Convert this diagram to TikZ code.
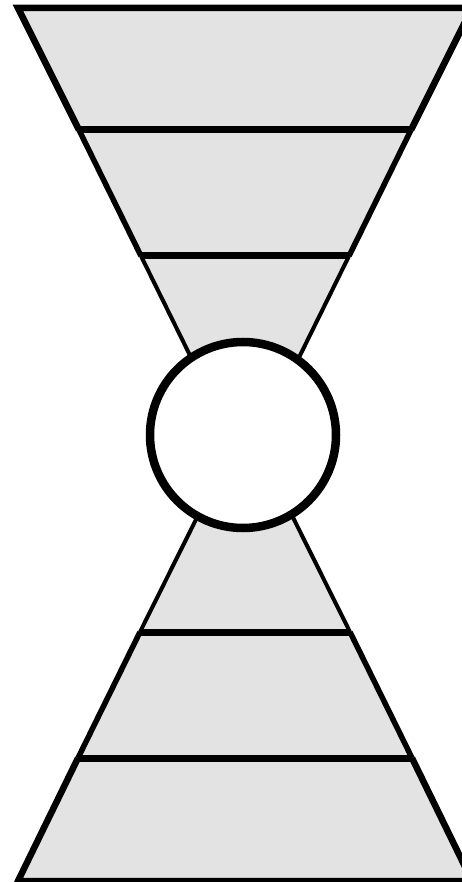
\documentclass[tikz,border=0pt]{standalone}
\usepackage{xcolor}
\definecolor{bandgray}{RGB}{227,227,227}

\begin{document}
\begin{tikzpicture}[x=1pt,y=-1pt,
  band/.style={fill=bandgray},
  rim/.style={draw=black,line join=miter},
  hub/.style={circle,draw=black,fill=white,line width=8.5pt,minimum size=186pt,inner sep=0pt}]
\useasboundingbox (0,0) rectangle (462,882);
\coordinate (t0l) at (18,8);
\coordinate (t0r) at (472,8);
\coordinate (t1l) at (79,130);
\coordinate (t1r) at (411,130);
\coordinate (t2l) at (141,256);
\coordinate (t2r) at (349,256);
\coordinate (ta) at (245,467);
\coordinate (b0l) at (18,881);
\coordinate (b0r) at (472,881);
\coordinate (b1l) at (78,758);
\coordinate (b1r) at (412,758);
\coordinate (b2l) at (140,632);
\coordinate (b2r) at (350,632);
\coordinate (ba) at (245,421);
\fill[band] (t0l) -- (t0r) -- (ta) -- cycle;
\fill[band] (b0l) -- (b0r) -- (ba) -- cycle;
\draw[rim,line width=6.5pt] (t1l) -- (t0l) -- (t0r) -- (t1r);
\draw[rim,line width=5.5pt] (t1l) -- (t2l) (t1r) -- (t2r);
\draw[rim,line width=4pt] (t2l) -- (ta) -- (t2r);
\draw[rim,line width=6.5pt] (b1l) -- (b0l) -- (b0r) -- (b1r);
\draw[rim,line width=5.5pt] (b1l) -- (b2l) (b1r) -- (b2r);
\draw[rim,line width=4pt] (b2l) -- (ba) -- (b2r);
\draw[rim,line width=7pt] (t1l) -- (t1r) (t2l) -- (t2r);
\draw[rim,line width=7pt] (b1l) -- (b1r) (b2l) -- (b2r);
\node[hub] (core) at (243,435) {};
\end{tikzpicture}
\end{document}
